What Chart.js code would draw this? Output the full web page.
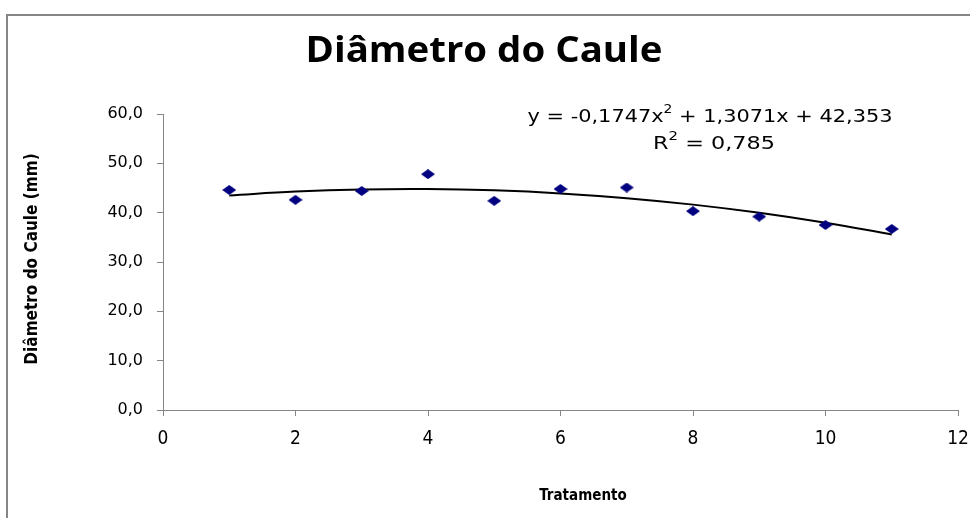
<!DOCTYPE html>
<html>
<head>
<meta charset="utf-8">
<script src="https://cdn.jsdelivr.net/npm/chart.js@4/dist/chart.umd.min.js"></script>
<style>
  html, body { margin: 0; padding: 0; background: #fff; }
  #wrap { width: 970px; height: 518px; position: relative; }
</style>
</head>
<body>
<div id="wrap"><canvas id="caule" width="970" height="518"></canvas></div>
<script>
// dados
const tratamentos = [1, 2, 3, 4, 5, 6, 7, 8, 9, 10, 11];
const diametro = [44.6, 42.6, 44.4, 47.8, 42.4, 44.8, 45.1, 40.3, 39.2, 37.5, 36.7];
// linha de tendência polinomial (valores nos tratamentos)
const tendencia = [43.49, 44.27, 44.70, 44.79, 44.52, 43.91, 42.94, 41.63, 39.97, 37.95, 35.59];
const yTicks = ['0,0', '10,0', '20,0', '30,0', '40,0', '50,0', '60,0'];
const xTicks = ['0', '2', '4', '6', '8', '10', '12'];

const cinza = '#868686';

// losango achatado como no Excel
const losango = document.createElement('canvas');
losango.width = 14; losango.height = 10;
(function () {
  const c = losango.getContext('2d');
  c.fillStyle = '#000080';
  c.beginPath();
  c.moveTo(7, 0); c.lineTo(14, 5); c.lineTo(7, 10); c.lineTo(0, 5);
  c.closePath(); c.fill();
})();

// escreve texto esticado na horizontal para caber na largura
function textoLargo(ctx, partes, cx, y, largura) {
  let total = 0;
  partes.forEach(p => { ctx.font = p.font; p.w = ctx.measureText(p.t).width; total += p.w; });
  const k = largura ? largura / total : 1;
  ctx.save();
  ctx.translate(cx - (total * k) / 2, y);
  ctx.scale(k, 1);
  ctx.textAlign = 'left';
  let x = 0;
  partes.forEach(p => {
    ctx.font = p.font;
    ctx.fillText(p.t, x, p.dy || 0);
    x += p.w;
  });
  ctx.restore();
}

const textos = {
  id: 'textos',
  beforeDraw(chart) {
    const ctx = chart.ctx;
    ctx.save();
    ctx.fillStyle = '#fff';
    ctx.fillRect(0, 0, chart.width, chart.height);
    // moldura
    ctx.strokeStyle = cinza;
    ctx.lineWidth = 2;
    ctx.beginPath();
    ctx.moveTo(7, 520); ctx.lineTo(7, 15); ctx.lineTo(975, 15);
    ctx.stroke();
    ctx.restore();
  },
  afterDraw(chart) {
    const ctx = chart.ctx;
    ctx.save();
    ctx.fillStyle = '#000';
    ctx.textBaseline = 'middle';

    const fTitulo = 'bold 35px "Open Sans", sans-serif';
    textoLargo(ctx, [{ t: 'Diâmetro do Caule', font: fTitulo }], 484, 52, 357);

    // equação
    const fEq = '18px "DejaVu Sans", sans-serif';
    const fSup = '12px "DejaVu Sans", sans-serif';
    textoLargo(ctx, [
      { t: 'y = -0,1747x', font: fEq },
      { t: '2', font: fSup, dy: -7 },
      { t: ' + 1,3071x + 42,353', font: fEq },
    ], 710, 117, 365);
    textoLargo(ctx, [
      { t: 'R', font: fEq },
      { t: '2', font: fSup, dy: -7 },
      { t: ' = 0,785', font: fEq },
    ], 714, 144, 122);

    // títulos dos eixos
    ctx.textAlign = 'center';
    ctx.font = 'bold 15px "Liberation Sans Narrow", "DejaVu Sans Condensed", sans-serif';
    ctx.fillText('Tratamento', 583, 496);
    ctx.font = 'bold 17px "Liberation Sans Narrow", "DejaVu Sans Condensed", sans-serif';
    ctx.translate(33, 259);
    ctx.rotate(-Math.PI / 2);
    ctx.fillText('Diâmetro do Caule (mm)', 0, 0);
    ctx.restore();
  }
};

new Chart(document.getElementById('caule'), {
  type: 'scatter',
  data: {
    datasets: [
      {
        data: tratamentos.map((t, i) => ({ x: t, y: diametro[i] })),
        pointStyle: losango,
        pointRadius: 6,
        pointHoverRadius: 6,
      },
      {
        type: 'line',
        data: tratamentos.map((t, i) => ({ x: t, y: tendencia[i] })),
        borderColor: '#000',
        borderWidth: 2,
        pointRadius: 0,
        tension: 0.4,
        fill: false,
      },
    ],
  },
  options: {
    responsive: false,
    animation: false,
    layout: { padding: { top: 114, right: 12, left: 0, bottom: 0 } },
    scales: {
      x: {
        type: 'linear',
        min: 0, max: 12,
        afterFit: (s) => { s.height = 108; s.paddingLeft = 0; s.paddingRight = 0; },
        ticks: {
          stepSize: 2,
          padding: 12,
          color: '#000',
          font: { family: '"Liberation Sans Narrow", "DejaVu Sans Condensed", sans-serif', size: 19 },
          callback: (v) => xTicks[v / 2],
        },
        grid: { drawOnChartArea: false, drawTicks: true, tickLength: 6, color: cinza },
        border: { display: true, color: cinza, width: 1 },
      },
      y: {
        min: 0, max: 60,
        afterFit: (s) => { s.width = 163; s.paddingTop = 0; s.paddingBottom = 0; },
        ticks: {
          stepSize: 10,
          padding: 14,
          color: '#000',
          font: { family: '"DejaVu Sans", sans-serif', size: 16 },
          callback: (v) => yTicks[v / 10],
        },
        grid: { drawOnChartArea: false, drawTicks: true, tickLength: 6, color: cinza },
        border: { display: true, color: cinza, width: 1 },
      },
    },
    plugins: {
      legend: { display: false },
      tooltip: { enabled: false },
    },
  },
  plugins: [textos],
});
</script>
</body>
</html>
